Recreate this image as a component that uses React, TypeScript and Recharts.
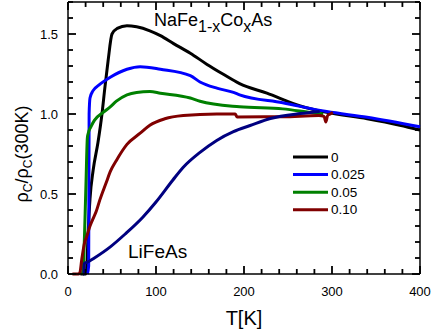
import React from "react";
import { LineChart, Line, XAxis, YAxis, ReferenceLine } from "recharts";

const FONT = "'Liberation Sans', Arial, Helvetica, sans-serif";

// T[K] vs rho_c / rho_c(300K)
const co0 = [
  { t: 14, r: 0 }, { t: 20, r: 0.0 }, { t: 21, r: 0.02 }, { t: 23, r: 0.27 },
  { t: 25, r: 0.47 }, { t: 28.6, r: 0.65 }, { t: 34, r: 0.82 }, { t: 38.6, r: 1.0 },
  { t: 42, r: 1.17 }, { t: 45.5, r: 1.33 }, { t: 50, r: 1.5 }, { t: 56, r: 1.535 },
  { t: 67, r: 1.552 }, { t: 78, r: 1.545 }, { t: 93, r: 1.52 }, { t: 105, r: 1.49 },
  { t: 120, r: 1.44 }, { t: 139, r: 1.38 }, { t: 158, r: 1.31 }, { t: 176, r: 1.25 },
  { t: 195, r: 1.19 }, { t: 226, r: 1.13 }, { t: 264, r: 1.05 }, { t: 294, r: 1.01 },
  { t: 340, r: 0.97 }, { t: 377, r: 0.93 }, { t: 400, r: 0.9 },
];

const co025 = [
  { t: 22, r: 0 }, { t: 23.5, r: 0.05 }, { t: 24, r: 1.0 }, { t: 25, r: 1.1 },
  { t: 28.5, r: 1.146 }, { t: 35, r: 1.18 }, { t: 48, r: 1.23 }, { t: 67, r: 1.28 },
  { t: 82, r: 1.296 }, { t: 105, r: 1.28 }, { t: 139, r: 1.24 }, { t: 150, r: 1.2 },
  { t: 170, r: 1.16 }, { t: 188, r: 1.135 }, { t: 195, r: 1.12 }, { t: 244, r: 1.07 },
  { t: 294, r: 1.015 }, { t: 340, r: 0.98 }, { t: 400, r: 0.92 },
];

const co05 = [
  { t: 15, r: 0 }, { t: 17, r: 0.02 }, { t: 19.5, r: 0.38 }, { t: 20.5, r: 0.58 },
  { t: 22, r: 0.85 }, { t: 23, r: 0.88 }, { t: 26, r: 0.92 }, { t: 30, r: 0.96 },
  { t: 40, r: 1.01 }, { t: 48, r: 1.045 }, { t: 55, r: 1.08 }, { t: 67, r: 1.12 },
  { t: 78, r: 1.135 }, { t: 93, r: 1.14 }, { t: 105, r: 1.13 }, { t: 139, r: 1.1 },
  { t: 150, r: 1.08 }, { t: 195, r: 1.045 }, { t: 244, r: 1.032 }, { t: 275, r: 1.01 },
  { t: 290, r: 1.0 },
];

const co10 = [
  { t: 5, r: 0 }, { t: 12, r: 0 }, { t: 13.6, r: 0.01 }, { t: 15.6, r: 0.09 },
  { t: 19, r: 0.2 }, { t: 21, r: 0.23 }, { t: 25, r: 0.3 }, { t: 28, r: 0.34 },
  { t: 32, r: 0.39 }, { t: 36, r: 0.46 }, { t: 44, r: 0.58 }, { t: 48, r: 0.64 },
  { t: 55, r: 0.71 }, { t: 67, r: 0.81 }, { t: 82, r: 0.88 }, { t: 93, r: 0.93 },
  { t: 110, r: 0.97 }, { t: 131, r: 0.99 }, { t: 169, r: 1.0 }, { t: 190, r: 1.0 },
  { t: 192, r: 0.982 }, { t: 244, r: 0.983 }, { t: 285, r: 0.99 }, { t: 291, r: 0.985 },
  { t: 293, r: 0.95 }, { t: 295, r: 0.99 }, { t: 298, r: 1.0 }, { t: 301, r: 1.01 },
];

const lifeas = [
  { t: 17, r: 0 }, { t: 18, r: 0 }, { t: 18.5, r: 0.065 }, { t: 22.7, r: 0.075 },
  { t: 30, r: 0.1 }, { t: 47.7, r: 0.168 }, { t: 65, r: 0.25 }, { t: 85, r: 0.355 },
  { t: 100, r: 0.45 }, { t: 119, r: 0.586 }, { t: 131, r: 0.667 }, { t: 150, r: 0.76 },
  { t: 169, r: 0.835 }, { t: 188, r: 0.89 }, { t: 207, r: 0.928 }, { t: 230, r: 0.972 },
  { t: 264, r: 1.003 }, { t: 286, r: 1.016 },
];

const legendNames = ["0", "0.025", "0.05", "0.10"];
const legendColors = ["#000000", "#0000ff", "#008000", "#800000"];

const X_MAX = 400;
const Y_MAX = 1.7;
const xTicks = [0, 20, 40, 60, 80, 100, 120, 140, 160, 180, 200, 220, 240, 260, 280, 300, 320, 340, 360, 380, 400];
const xMajor = [0, 100, 200, 300, 400];
const yTicks = [0, 0.1, 0.2, 0.3, 0.4, 0.5, 0.6, 0.7, 0.8, 0.9, 1.0, 1.1, 1.2, 1.3, 1.4, 1.5, 1.6, 1.7];
const yMajor = [0, 0.5, 1.0, 1.5];
const yMajorLabels = ["0.0", "0.5", "1.0", "1.5"];

// inward tick lengths in axis units (plot ~352 x 272 px)
const TX_MAJ = 9.1, TX_MIN = 5.7;
const TY_MAJ = 0.05, TY_MIN = 0.031;
const TICK_W = 1.8;

const yMajorIndex = (v: number) => yMajor.findIndex((m) => Math.abs(m - v) < 1e-6);

const BottomTick = ({ x, y, payload }: any) => {
  const major = xMajor.includes(payload.value);
  return (
    <g>
      <line x1={x} x2={x} y1={y} y2={y - (major ? 8 : 5)} stroke="#000" strokeWidth={TICK_W} />
      {major && (
        <text x={x} y={y + 21.5} textAnchor="middle" fontSize={13} fontFamily={FONT} fill="#000">
          {payload.value}
        </text>
      )}
    </g>
  );
};

const LeftTick = ({ x, y, payload }: any) => {
  const idx = yMajorIndex(payload.value);
  return (
    <g>
      <line x1={x} x2={x + (idx >= 0 ? 8 : 5)} y1={y} y2={y} stroke="#000" strokeWidth={TICK_W} />
      {idx >= 0 && (
        <text x={x - 10} y={y + 4.5} textAnchor="end" fontSize={13} fontFamily={FONT} fill="#000">
          {yMajorLabels[idx]}
        </text>
      )}
    </g>
  );
};

// annotations, axis titles and the legend, drawn as the x axis label
const Annotations = () => (
  <g fontFamily={FONT} fill="#000">
    <text x={154} y={26} fontSize={18}>
      NaFe
      <tspan dy={6} fontSize={16}>1-x</tspan>
      <tspan dy={-6}>Co</tspan>
      <tspan dy={6} fontSize={16}>x</tspan>
      <tspan dy={-6}>As</tspan>
    </text>
    <text x={128} y={258} fontSize={19}>LiFeAs</text>
    <text x={244} y={325} fontSize={20} textAnchor="middle">T[K]</text>
    <text x={28} y={154} fontSize={18} textAnchor="middle" transform="rotate(-90, 28, 154)">
      ρ
      <tspan dy={4} fontSize={12}>C</tspan>
      <tspan dy={-4}>/ρ</tspan>
      <tspan dy={4} fontSize={12}>C</tspan>
      <tspan dy={-4}>(300K)</tspan>
    </text>
    <g transform="translate(293, 148)">
      {legendNames.map((n, i) => (
        <g key={n}>
          <line x1={0} x2={35} y1={9 + i * 17.6} y2={9 + i * 17.6} stroke={legendColors[i]} strokeWidth={3} />
          <text x={38} y={13.5 + i * 17.6} fontSize={13.5}>{n}</text>
        </g>
      ))}
    </g>
  </g>
);

// top and right frame ticks
const frameSegs = (() => {
  const segs: { key: string; seg: { x: number; y: number }[] }[] = [];
  xTicks.forEach((v) => {
    const l = xMajor.includes(v) ? TY_MAJ : TY_MIN;
    segs.push({ key: `t${v}`, seg: [{ x: v, y: Y_MAX }, { x: v, y: Y_MAX - l }] });
  });
  yTicks.forEach((v) => {
    const l = yMajorIndex(v) >= 0 ? TX_MAJ : TX_MIN;
    segs.push({ key: `r${v}`, seg: [{ x: X_MAX, y: v }, { x: X_MAX - l, y: v }] });
  });
  return segs;
})();

const series = [
  { name: "0", data: co0, color: legendColors[0] },
  { name: "0.025", data: co025, color: legendColors[1] },
  { name: "0.05", data: co05, color: legendColors[2] },
  { name: "0.10", data: co10, color: legendColors[3] },
  { name: "LiFeAs", data: lifeas, color: "#000080" },
];

export default function App() {
  return (
    <div style={{ position: "absolute", left: 0, top: 0, background: "#fff" }}>
      <LineChart width={436} height={334} margin={{ top: 2, right: 16, bottom: 30, left: 18 }}>
        <XAxis
          dataKey="t"
          type="number"
          domain={[0, X_MAX]}
          ticks={xTicks}
          interval={0}
          height={30}
          tickSize={0}
          tickMargin={0}
          tickLine={false}
          axisLine={{ stroke: "#000", strokeWidth: 1.5 }}
          tick={BottomTick}
          label={{ content: () => <Annotations /> }}
        />
        <YAxis
          type="number"
          domain={[0, Y_MAX]}
          ticks={yTicks}
          interval={0}
          width={50}
          tickSize={0}
          tickMargin={0}
          tickLine={false}
          axisLine={{ stroke: "#000", strokeWidth: 1.5 }}
          tick={LeftTick}
        />
        <ReferenceLine x={X_MAX} stroke="#000" strokeWidth={1.5} />
        <ReferenceLine y={Y_MAX} stroke="#000" strokeWidth={1.5} />
        {frameSegs.map((s) => (
          <ReferenceLine key={s.key} segment={s.seg} stroke="#000" strokeWidth={TICK_W} />
        ))}
        {series.map((s) => (
          <Line key={s.name} name={s.name} data={s.data} dataKey="r" type="monotone" stroke={s.color} strokeWidth={3} dot={false} isAnimationActive={false} />
        ))}
      </LineChart>
    </div>
  );
}
